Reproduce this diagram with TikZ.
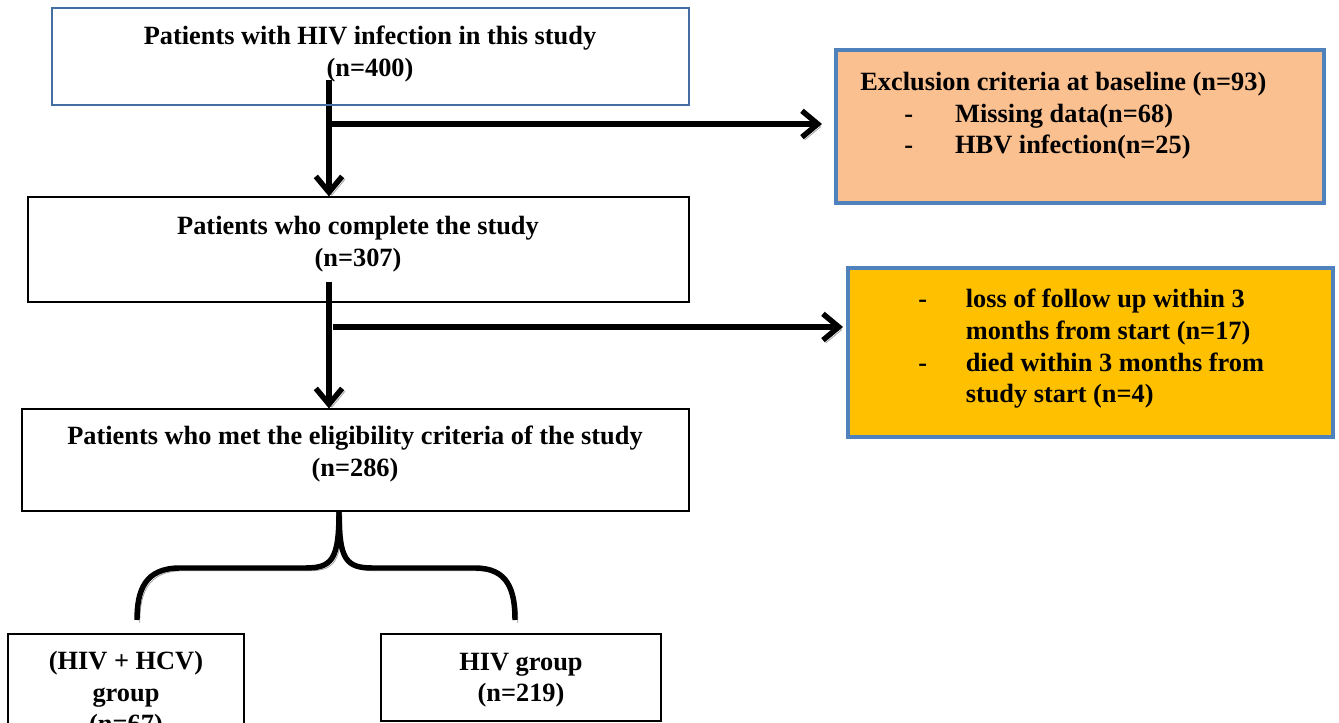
\documentclass[tikz,border=0pt]{standalone}
\usepackage{fontspec}
\setmainfont{Liberation Serif}
\usepackage{tikz}
\usetikzlibrary{arrows.meta,fit}
\definecolor{peach}{HTML}{FAC090}
\definecolor{amber}{HTML}{FFC000}
\definecolor{frameblue}{HTML}{4F81BD}
\pgfdeclarelayer{edgelayer}
\pgfdeclarelayer{nodelayer}
\pgfsetlayers{edgelayer,nodelayer,main}
\tikzstyle{none}=[inner sep=0pt]
\tikzstyle{stage}=[rectangle,draw=black,line width=0.6pt,inner sep=0pt]
\tikzstyle{firststage}=[stage,draw=frameblue!85!black]
\tikzstyle{dropout}=[rectangle,draw=frameblue,line width=2.3pt,inner sep=0pt]
\tikzstyle{caption}=[inner sep=0pt,align=center,font=\fontsize{15}{18}\selectfont\bfseries]
\tikzstyle{listtext}=[caption,align=left,anchor=west]
\tikzstyle{shade}=[preaction={draw=black!40,transform canvas={xshift=1.6pt,yshift=-1.6pt}}]
\tikzstyle{flow}=[-{Straight Barb[length=9pt,width=15pt]},line width=3.1pt,style=shade]
\tikzstyle{brace}=[-,line width=3.1pt,style=shade]
\newcommand{\dashitem}[1]{\makebox[#1][l]{-}}

\begin{document}
\begin{tikzpicture}[x=0.02cm,y=-0.02cm]
	\useasboundingbox (0,0) rectangle (1339,723);
	\begin{pgfonlayer}{nodelayer}
		\node [style=firststage, fit={(52,8) (689,105)}] (total) {};
		\node [style=stage, fit={(28,197) (689,302)}] (complete) {};
		\node [style=stage, fit={(22,409) (689,511)}] (eligible) {};
		\node [style=dropout, fill=peach, fit={(836,50) (1324,203)}] (baseline) {};
		\node [style=dropout, fill=amber, fit={(848,268) (1333,437)}] (followup) {};
		\node [style=stage, fit={(8,634) (244,740)}] (coinf) {};
		\node [style=stage, fit={(381,634) (661,721)}] (hivonly) {};
		\node [style=caption] at (370,54) {Patients with HIV infection in this study\\(n=400)};
		\node [style=caption] at (358,244) {Patients who complete the study\\(n=307)};
		\node [style=caption] at (355,454) {Patients who met the eligibility criteria of the study\\(n=286)};
		\node [style=caption] at (126,695) {(HIV + HCV)\\group\\(n=67)};
		\node [style=caption] at (521,680) {HIV group\\(n=219)};
		\node [style=listtext] at (860,116) {Exclusion criteria at baseline (n=93)\\
			\hspace*{25pt}\dashitem{29pt}Missing data(n=68)\\
			\hspace*{25pt}\dashitem{29pt}HBV infection(n=25)};
		\node [style=listtext] at (918,349) {\dashitem{27pt}loss of follow up within 3\\
			\hspace*{27pt}months from start (n=17)\\
			\dashitem{27pt}died within 3 months from\\
			\hspace*{27pt}study start (n=4)};
		\node [style=none] (s1) at (329,80) {};
		\node [style=none] (b1) at (329,124) {};
		\node [style=none] (e1) at (822,124) {};
		\node [style=none] (s2) at (329,282) {};
		\node [style=none] (b2) at (333,327) {};
		\node [style=none] (e2) at (843,327) {};
		\node [style=none] (fork) at (339,511) {};
		\node [style=none] (left) at (137,620) {};
		\node [style=none] (right) at (515,620) {};
	\end{pgfonlayer}
	\begin{pgfonlayer}{edgelayer}
		\draw [style=flow] (s1.center) to (s1 |- complete.north);
		\draw [style=flow] (b1.center) to (e1.center);
		\draw [style=flow] (s2.center) to (s2 |- eligible.north);
		\draw [style=flow] (b2.center) to (e2.center);
		\draw [style=brace] (fork.center) .. controls (339,560) and (332,568) .. (305,568)
			-- (180,568) .. controls (145,568) and (137,590) .. (left.center);
		\draw [style=brace] (fork.center) .. controls (339,560) and (346,568) .. (373,568)
			-- (475,568) .. controls (508,568) and (515,590) .. (right.center);
	\end{pgfonlayer}
\end{tikzpicture}
\end{document}
